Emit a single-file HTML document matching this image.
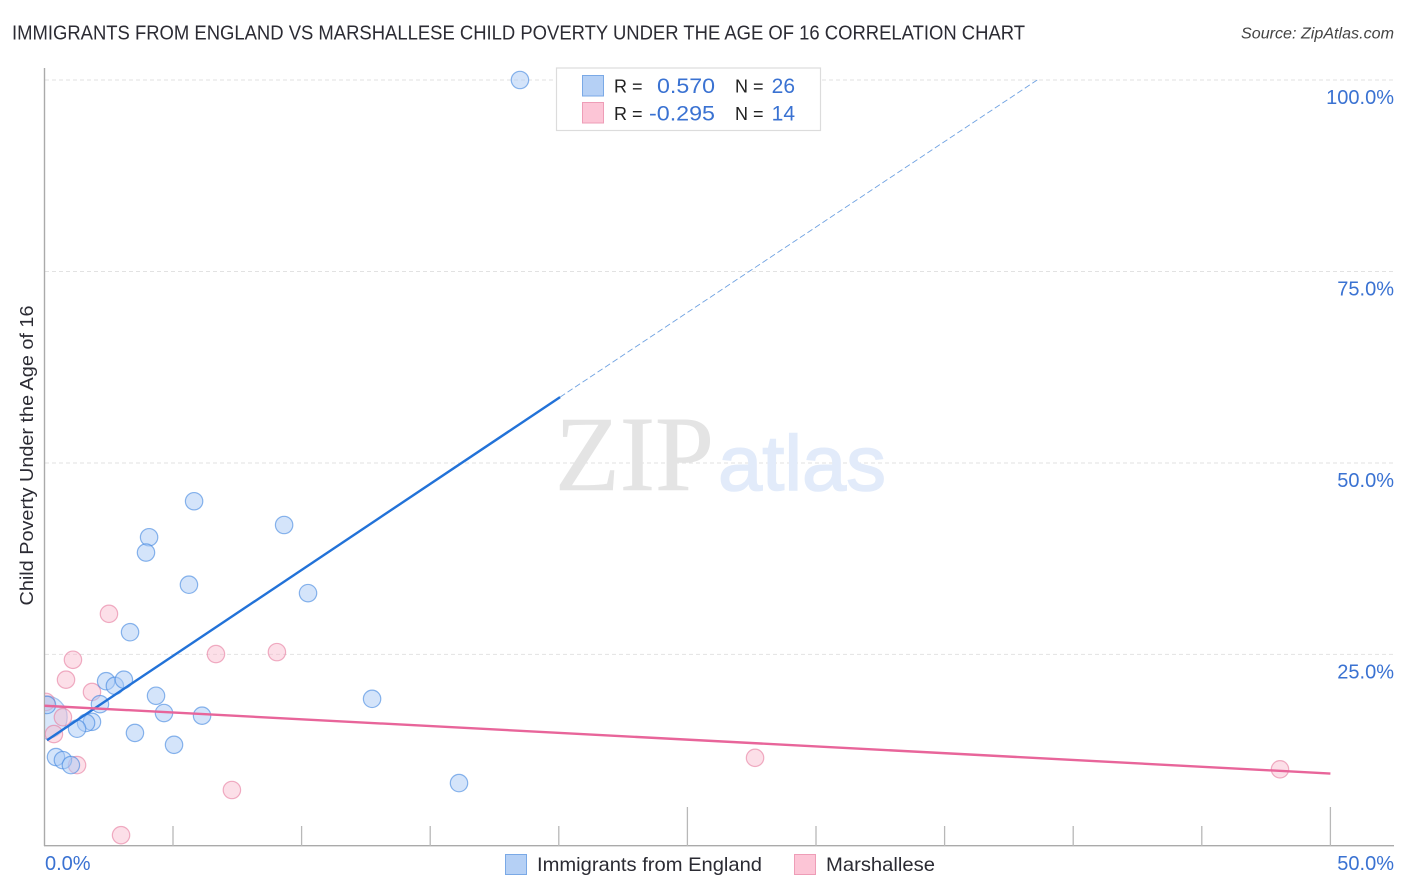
<!DOCTYPE html>
<html>
<head>
<meta charset="utf-8">
<title>Immigrants from England vs Marshallese Child Poverty Correlation Chart</title>
<style>
html,body{margin:0;padding:0;background:#fff;}
svg{display:block;}
text{font-family:"Liberation Sans",sans-serif;}
</style>
</head>
<body>
<svg id="chart" width="1406" height="892" viewBox="0 0 1406 892" xmlns="http://www.w3.org/2000/svg">
  <defs>
    <clipPath id="plot-clip"><rect x="45" y="60" width="1350" height="800"/></clipPath>
  </defs>
  <rect width="1406" height="892" fill="#ffffff"/>
  <text x="12" y="39.5" font-size="20" fill="#2b2b33" textLength="1013" lengthAdjust="spacingAndGlyphs">IMMIGRANTS FROM ENGLAND VS MARSHALLESE CHILD POVERTY UNDER THE AGE OF 16 CORRELATION CHART</text>
  <text x="1241" y="38.5" font-size="15.5" font-style="italic" fill="#444" textLength="153" lengthAdjust="spacingAndGlyphs">Source: ZipAtlas.com</text>

  <g id="grid"></g>

  <g>
    <text x="555" y="490" font-size="107" fill="#e4e4e4" stroke="#e4e4e4" stroke-width="0.6" style="font-family:'Liberation Serif',serif" textLength="159" lengthAdjust="spacingAndGlyphs">ZIP</text>
    <text x="718" y="490" font-size="78" fill="#e2ebfa" stroke="#e2ebfa" stroke-width="1.5" textLength="168" lengthAdjust="spacingAndGlyphs">atlas</text>
  </g>

  <g id="axes"></g>
  <g id="points" clip-path="url(#plot-clip)"></g>
  <g id="trends"></g>
  <g id="labels"></g>

  <text transform="translate(33,455.5) rotate(-90)" font-size="18.5" fill="#2b2b33" text-anchor="middle" textLength="300" lengthAdjust="spacingAndGlyphs">Child Poverty Under the Age of 16</text>

  <g>
    <rect x="556.5" y="68" width="264" height="62.5" fill="#ffffff" stroke="#dcdcdc" stroke-width="1.2"/>
    <rect x="582.5" y="75.5" width="21" height="20.5" fill="#b5d0f5" stroke="#7aa9e6" stroke-width="1"/>
    <rect x="582.5" y="102.5" width="21" height="20.5" fill="#fcc5d6" stroke="#ee9db7" stroke-width="1"/>
    <text x="614" y="92.5" font-size="18" fill="#222">R =</text>
    <text x="715" y="93" font-size="21" fill="#3a72d2" text-anchor="end" textLength="58" lengthAdjust="spacingAndGlyphs">0.570</text>
    <text x="735" y="92.5" font-size="18" fill="#222">N =</text>
    <text x="795" y="93" font-size="21" fill="#3a72d2" text-anchor="end">26</text>
    <text x="614" y="120" font-size="18" fill="#222">R =</text>
    <text x="715" y="120.5" font-size="21" fill="#3a72d2" text-anchor="end" textLength="66" lengthAdjust="spacingAndGlyphs">-0.295</text>
    <text x="735" y="120" font-size="18" fill="#222">N =</text>
    <text x="795" y="120.5" font-size="21" fill="#3a72d2" text-anchor="end">14</text>
  </g>

  <g>
    <rect x="505.5" y="854.5" width="21" height="20" fill="#b5d0f5" stroke="#7aa9e6" stroke-width="1"/>
    <text x="537" y="871" font-size="19.5" fill="#2b2b33" textLength="225" lengthAdjust="spacingAndGlyphs">Immigrants from England</text>
    <rect x="794.5" y="854.5" width="21" height="20" fill="#fcc5d6" stroke="#ee9db7" stroke-width="1"/>
    <text x="826" y="871" font-size="19.5" fill="#2b2b33" textLength="109" lengthAdjust="spacingAndGlyphs">Marshallese</text>
  </g>
</svg>

<script>
const xTicks = [5, 10, 15, 20, 25, 30, 35, 40, 45, 50];
const yTicks = [25, 50, 75, 100];
const xEdgeLabels = ['0.0%', '50.0%'];
const yTickLabels = ['25.0%', '50.0%', '75.0%', '100.0%'];

const englandX = [18.49, 5.82, 9.32, 4.07, 3.95, 5.62, 10.25, 3.33, 2.40, 2.74, 3.09, 4.34, 2.16, 4.65, 6.13, 12.74, 1.85, 1.62, 1.27, 3.52, 5.04, 0.45, 0.72, 1.03, 16.12, 0.10];
const englandY = [100, 45.0, 41.9, 40.3, 38.3, 34.1, 33.0, 27.9, 21.5, 20.9, 21.7, 19.6, 18.5, 17.35, 17.0, 19.2, 16.2, 16.05, 15.3, 14.75, 13.2, 11.6, 11.2, 10.55, 8.2, 18.4];
const englandLargeX = [0.05];
const englandLargeY = [16.8];

const marshalleseX = [0.06, 2.51, 1.11, 0.84, 1.85, 0.72, 0.37, 1.27, 6.67, 9.04, 7.29, 2.98, 27.63, 48.04];
const marshalleseY = [18.8, 30.3, 24.3, 21.7, 20.1, 16.8, 14.6, 10.55, 25.05, 25.3, 7.3, 1.4, 11.5, 10.0];

const englandTrendX = [0.1, 20.05];
const englandTrendY = [13.8, 58.6];
const englandProjectionX = [20.05, 38.6];
const englandProjectionY = [58.6, 100];
const marshalleseTrendX = [0, 50];
const marshalleseTrendY = [18.3, 9.45];

const SVGNS = 'http://www.w3.org/2000/svg';
const xScale = v => 44.4 + v * 25.72;
const yScale = v => 845.9 - v * 7.659;

function make(tag, parentId, attrs, text) {
  const el = document.createElementNS(SVGNS, tag);
  for (const k in attrs) el.setAttribute(k, attrs[k]);
  if (text !== undefined) el.textContent = text;
  document.getElementById(parentId).appendChild(el);
  return el;
}

// Gridlines
yTicks.forEach(function (t) {
  const el = make('line', 'grid', {x1: 45, x2: 1394, y1: yScale(t), y2: yScale(t), stroke: '#e2e2e2', 'stroke-width': 1, 'stroke-dasharray': '4 3'});
  
  
});

// Axes
const yAxisLine = make('line', 'axes', {x1: 44.5, x2: 44.5, y1: 68, y2: 846, stroke: '#aaaaaa', 'stroke-width': 1.4});


const xAxisLine = make('line', 'axes', {x1: 44, x2: 1394, y1: 845.7, y2: 845.7, stroke: '#aaaaaa', 'stroke-width': 1.4});


xTicks.forEach(function (t) {
  const top = t % 25 === 0 ? 807 : 826;
  const el = make('line', 'axes', {x1: xScale(t), x2: xScale(t), y1: top, y2: 846, stroke: '#b8b8b8', 'stroke-width': 1.3});
  
  
});

// Points
function drawPoints(xs, ys, r, fill, stroke, opacity, name) {
  xs.forEach(function (x, i) {
    const el = make('circle', 'points', {cx: xScale(x), cy: yScale(ys[i]), r: r, fill: fill, 'fill-opacity': opacity, stroke: stroke, 'stroke-opacity': 0.6, 'stroke-width': 1.2});
    
    
  });
}
drawPoints(englandLargeX, englandLargeY, 21.5, '#a9c9f5', '#6fa3e6', 0.45, 'england-large-point');
drawPoints(marshalleseX, marshalleseY, 8.7, '#f9b8cd', '#e67c9f', 0.45, 'marshallese-point');
drawPoints(englandX, englandY, 8.7, '#a9c9f5', '#3f86e0', 0.5, 'england-point');

// Trend lines
function drawTrend(xs, ys, color, width, dash, name) {
  const attrs = {x1: xScale(xs[0]), y1: yScale(ys[0]), x2: xScale(xs[1]), y2: yScale(ys[1]), stroke: color, 'stroke-width': width};
  if (dash) attrs['stroke-dasharray'] = dash;
  const el = make('line', 'trends', attrs);
  
  
}
drawTrend(englandProjectionX, englandProjectionY, '#6fa2e2', 0.9, '6 3', 'england-trend-projection');
drawTrend(englandTrendX, englandTrendY, '#2272d8', 2.4, null, 'england-trend-line');
drawTrend(marshalleseTrendX, marshalleseTrendY, '#e8659a', 2.4, null, 'marshallese-trend-line');

// Tick labels
yTicks.forEach(function (t, i) {
  const el = make('text', 'labels', {x: 1394, y: yScale(t) + 24, 'font-size': 20, fill: '#3a72d2', 'text-anchor': 'end'}, yTickLabels[i]);
  
  
});
const xLabelLeft = make('text', 'labels', {x: 45, y: 870, 'font-size': 20, fill: '#3a72d2'}, xEdgeLabels[0]);


const xLabelRight = make('text', 'labels', {x: 1394, y: 870, 'font-size': 20, fill: '#3a72d2', 'text-anchor': 'end'}, xEdgeLabels[1]);


</script>
</body>
</html>
